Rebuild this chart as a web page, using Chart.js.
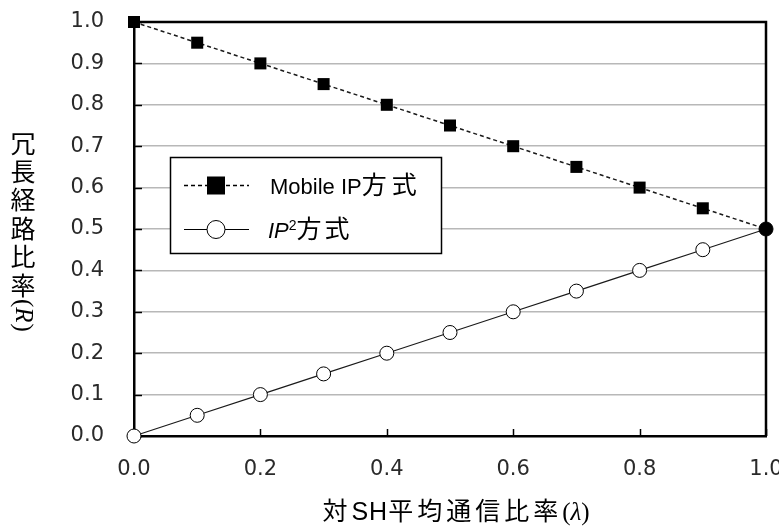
<!DOCTYPE html>
<html>
<head>
<meta charset="utf-8">
<script src="https://cdn.jsdelivr.net/npm/chart.js@4/dist/chart.umd.min.js"></script>
<style>
  html, body { margin: 0; padding: 0; background: #ffffff; }
  #wrap { width: 779px; height: 529px; }
</style>
</head>
<body>
<div id="wrap"><canvas id="c" width="779" height="529"></canvas></div>
<script>
// Communication ratio to SH (λ) and redundant route ratio (R)
const lambdaValues = [0.0, 0.1, 0.2, 0.3, 0.4, 0.5, 0.6, 0.7, 0.8, 0.9, 1.0];
const mobileIpRatio = [1.0, 0.95, 0.90, 0.85, 0.80, 0.75, 0.70, 0.65, 0.60, 0.55, 0.50];
const ip2Ratio = [0.0, 0.05, 0.10, 0.15, 0.20, 0.25, 0.30, 0.35, 0.40, 0.45, 0.50];
const seriesNames = ['Mobile IP方式', 'IP²方式'];
const xTicks = [0.0, 0.2, 0.4, 0.6, 0.8, 1.0];
const yTicks = [0.0, 0.1, 0.2, 0.3, 0.4, 0.5, 0.6, 0.7, 0.8, 0.9, 1.0];

const CJK = '"Noto Sans CJK JP"';
const SANS = '"Liberation Sans", Arial';
const SERIF = '"Liberation Serif", "Times New Roman"';

function toPoints(xs, ys) { return xs.map((x, i) => ({ x: x, y: ys[i] })); }

// Draws a sequence of text runs with their own fonts, left to right.
function runsWidth(ctx, runs) {
  let w = 0;
  runs.forEach(r => {
    ctx.font = r.font;
    for (const ch of r.text) w += ctx.measureText(ch).width + (r.spacing || 0);
  });
  return w;
}
function drawRuns(ctx, runs, x, y) {
  let cx = x;
  runs.forEach(r => {
    ctx.font = r.font;
    for (const ch of r.text) {
      ctx.fillText(ch, cx, y + (r.dy || 0));
      cx += ctx.measureText(ch).width + (r.spacing || 0);
    }
  });
  return cx;
}

const decorPlugin = {
  id: 'decor',
  beforeDatasetsDraw(chart) {
    const ctx = chart.ctx;
    const a = chart.chartArea;
    const xs = chart.scales.x, ys = chart.scales.y;
    ctx.save();
    ctx.strokeStyle = '#000';
    ctx.lineWidth = 1.5;
    // inward tick marks
    xTicks.forEach(v => {
      const px = Math.round(xs.getPixelForValue(v)) + 0.5;
      ctx.beginPath(); ctx.moveTo(px, a.bottom); ctx.lineTo(px, a.bottom - 7); ctx.stroke();
    });
    yTicks.forEach(v => {
      const py = Math.round(ys.getPixelForValue(v)) + 0.5;
      ctx.beginPath(); ctx.moveTo(a.left, py); ctx.lineTo(a.left + 8, py); ctx.stroke();
    });
    // frame: top and right edges
    ctx.lineWidth = 2.5;
    ctx.beginPath();
    ctx.moveTo(a.left, a.top); ctx.lineTo(a.right, a.top); ctx.lineTo(a.right, a.bottom);
    ctx.stroke();
    ctx.restore();
  },
  afterDraw(chart) {
    const ctx = chart.ctx;
    ctx.save();
    ctx.fillStyle = '#000';
    ctx.textBaseline = 'alphabetic';

    // x-axis title
    const xRuns = [
      { text: '対', font: '25px ' + CJK, spacing: 4 },
      { text: 'SH', font: '25px ' + SANS, spacing: 1 },
      { text: '平均通信比率', font: '25px ' + CJK, spacing: 4 },
      { text: '(', font: '25px ' + SERIF },
      { text: 'λ', font: 'italic 25px ' + SERIF },
      { text: ')', font: '25px ' + SERIF }
    ];
    const xw = runsWidth(ctx, xRuns);
    drawRuns(ctx, xRuns, 456 - xw / 2, 520);

    // y-axis title, vertical writing
    const yChars = '冗長経路比率';
    ctx.font = '25px ' + CJK;
    ctx.textAlign = 'center';
    ctx.textBaseline = 'middle';
    for (let i = 0; i < yChars.length; i++) {
      ctx.fillText(yChars[i], 23, 143 + i * 28.4);
    }
    ctx.save();
    ctx.translate(24, 299);
    ctx.rotate(Math.PI / 2);
    ctx.textAlign = 'left';
    ctx.textBaseline = 'middle';
    drawRuns(ctx, [
      { text: '(', font: '25px ' + SERIF },
      { text: 'R', font: 'italic 25px ' + SERIF, spacing: 1 },
      { text: ')', font: '25px ' + SERIF }
    ], 0, 1);
    ctx.restore();

    // legend box
    const lx = 170, ly = 157, lw = 271, lh = 96;
    ctx.fillStyle = '#fff';
    ctx.fillRect(lx, ly, lw, lh);
    ctx.strokeStyle = '#000';
    ctx.lineWidth = 1.5;
    ctx.strokeRect(lx + 0.5, ly + 0.5, lw, lh);

    // entry 1: dashed line with square
    const y1 = 185, y2 = 229;
    ctx.lineWidth = 1.5;
    ctx.setLineDash([4, 3]);
    ctx.beginPath(); ctx.moveTo(184, y1 + 0.5); ctx.lineTo(249, y1 + 0.5); ctx.stroke();
    ctx.setLineDash([]);
    ctx.fillStyle = '#000';
    ctx.fillRect(207, y1 - 8.5, 18, 18);
    // entry 2: solid line with open circle
    ctx.lineWidth = 1;
    ctx.beginPath(); ctx.moveTo(184, y2 + 0.5); ctx.lineTo(249, y2 + 0.5); ctx.stroke();
    ctx.beginPath(); ctx.arc(216, y2 + 0.5, 9, 0, Math.PI * 2);
    ctx.fillStyle = '#fff'; ctx.fill(); ctx.stroke();

    ctx.fillStyle = '#000';
    ctx.textAlign = 'left';
    ctx.textBaseline = 'alphabetic';
    drawRuns(ctx, [
      { text: 'Mobile IP', font: '22px ' + SANS },
      { text: '方式', font: '25px ' + CJK, spacing: 5 }
    ], 270, y1 + 9);
    drawRuns(ctx, [
      { text: 'IP', font: 'italic 22px ' + SANS },
      { text: '2', font: '14px ' + SANS, dy: -8 },
      { text: '方式', font: '25px ' + CJK, spacing: 3 }
    ], 268, y2 + 9);
    ctx.restore();
  }
};

new Chart(document.getElementById('c'), {
  type: 'scatter',
  data: {
    datasets: [
      {
        label: seriesNames[1],
        data: toPoints(lambdaValues, ip2Ratio),
        showLine: true,
        borderColor: '#1a1a1a',
        borderWidth: 1.2,
        pointStyle: 'circle',
        pointRadius: 7,
        pointBorderWidth: 1,
        pointBorderColor: '#000',
        pointBackgroundColor: lambdaValues.map((x, i) => i === lambdaValues.length - 1 ? '#000' : '#fff'),
        clip: false,
        order: 1
      },
      {
        label: seriesNames[0],
        data: toPoints(lambdaValues, mobileIpRatio),
        showLine: true,
        borderColor: '#1a1a1a',
        borderWidth: 1.5,
        borderDash: [4, 3],
        pointStyle: 'rect',
        pointRadius: lambdaValues.map((x, i) => i === lambdaValues.length - 1 ? 0 : 8.5),
        pointBorderWidth: 0,
        pointBackgroundColor: '#000',
        clip: false,
        order: 2
      }
    ]
  },
  options: {
    responsive: false,
    animation: false,
    devicePixelRatio: 1,
    layout: { padding: { left: 0, top: 22, right: 13, bottom: 0 } },
    plugins: {
      legend: { display: false },
      tooltip: { enabled: false },
      title: { display: false }
    },
    scales: {
      x: {
        type: 'linear',
        min: 0,
        max: 1,
        afterBuildTicks(scale) { scale.ticks = xTicks.map(v => ({ value: v })); },
        afterFit(scale) {
          scale.height = 93;
          scale.paddingLeft = 0; scale.paddingRight = 0;
        },
        grid: { display: false, drawTicks: false },
        border: { display: true, color: '#000', width: 2.5 },
        ticks: {
          padding: 21,
          color: '#2a2a2a',
          font: { family: '"DejaVu Sans"', size: 21 },
          callback: v => v.toFixed(1)
        }
      },
      y: {
        type: 'linear',
        min: 0,
        max: 1,
        afterBuildTicks(scale) { scale.ticks = yTicks.map(v => ({ value: v })); },
        afterFit(scale) {
          scale.width = 134;
          scale.paddingTop = 0; scale.paddingBottom = 0;
        },
        grid: { color: '#b8b8b8', lineWidth: 1.5, drawTicks: false },
        border: { display: true, color: '#000', width: 2.5 },
        ticks: {
          padding: 30,
          color: '#2a2a2a',
          font: { family: '"DejaVu Sans"', size: 21 },
          callback: v => v.toFixed(1)
        }
      }
    }
  },
  plugins: [decorPlugin]
});
</script>
</body>
</html>
